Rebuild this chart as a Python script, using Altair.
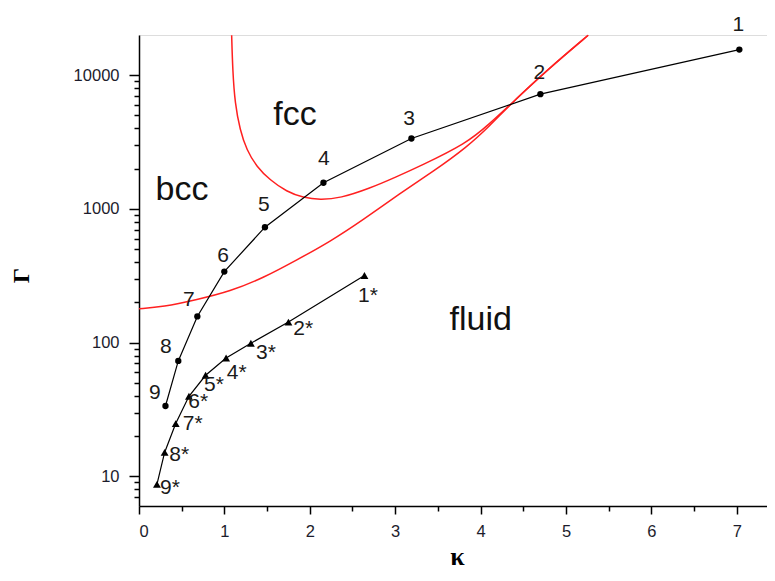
import altair as alt
import pandas as pd

# ---- data ----
kappa_s1 = [7.03, 4.70, 3.19, 2.16, 1.475, 0.999, 0.683, 0.46, 0.31]
gamma_s1 = [15560, 7215, 3365, 1570, 730, 340, 157, 73, 33.6]
labels_s1 = ["1", "2", "3", "4", "5", "6", "7", "8", "9"]
lab_k_s1 = [7.017, 4.687, 3.162, 2.166, 1.461, 0.984, 0.583, 0.314, 0.185]
lab_g_s1 = [21430, 9333, 4236, 2128, 971, 404, 186.6, 83.8, 38.0]

kappa_s2 = [2.64, 1.75, 1.31, 1.02, 0.78, 0.585, 0.43, 0.30, 0.21]
gamma_s2 = [318, 142.6, 99, 76.8, 57, 39.7, 24.8, 15.1, 8.7]
labels_s2 = ["1*", "2*", "3*", "4*", "5*", "6*", "7*", "8*", "9*"]
lab_k_s2 = [2.564, 1.807, 1.370, 1.027, 0.761, 0.577, 0.512, 0.355, 0.246]
lab_g_s2 = [203, 114.8, 76, 53.8, 43.4, 32.6, 22.4, 13.0, 7.35]

fcc_k = [1.085, 1.097, 1.124, 1.183, 1.261, 1.378, 1.534, 1.729, 1.924, 2.119,
         2.354, 2.705, 3.018, 3.290, 3.837, 4.110, 4.383, 4.774, 5.261]
fcc_g = [19900, 10900, 6150, 3890, 2754, 2070, 1644, 1346, 1213, 1167,
         1202, 1427, 1742, 2090, 3090, 4364, 6324, 10900, 19900]

fluid_k = [0, 0.281, 0.679, 1.066, 1.452, 1.850, 2.237, 2.623, 3.056, 3.443,
           3.841, 4.110, 4.379, 4.778, 5.258]
fluid_g = [179.5, 184.6, 209.6, 241.6, 304, 416, 570, 828, 1309, 1900,
           2900, 4200, 6324, 10900, 19900]

regions = ["fcc", "bcc", "fluid"]
region_k = [1.827, 0.503, 4.002]
region_g = [4236, 1167, 123.6]

x_major = [0, 1, 2, 3, 4, 5, 6, 7]
x_minor = [0.5, 1.5, 2.5, 3.5, 4.5, 5.5, 6.5]
y_major = [10, 100, 1000, 10000]
y_minor = [7, 8, 9, 20, 30, 40, 50, 60, 70, 80, 90, 200, 300, 400, 500, 600,
           700, 800, 900, 2000, 3000, 4000, 5000, 6000, 7000, 8000, 9000]

# ---- tables ----
s1 = pd.DataFrame({"k": kappa_s1, "g": gamma_s1, "o": range(len(kappa_s1))})
s2 = pd.DataFrame({"k": kappa_s2, "g": gamma_s2, "o": range(len(kappa_s2))})
t1 = pd.DataFrame({"k": lab_k_s1, "g": lab_g_s1, "t": labels_s1})
t2 = pd.DataFrame({"k": lab_k_s2, "g": lab_g_s2, "t": labels_s2})
fcc = pd.DataFrame({"k": fcc_k, "g": fcc_g})
fluid = pd.DataFrame({"k": fluid_k, "g": fluid_g})
reg = pd.DataFrame({"k": region_k, "g": region_g, "t": regions})

xs = alt.Scale(domain=[0, 7.354], nice=False, zero=False)
ys = alt.Scale(type="log", domain=[6, 20000], nice=False)

TICKFONT = "Liberation Sans"
common_axis = dict(grid=False, domainColor="black", domainWidth=1.5,
                   tickColor="black", tickWidth=1.5, labelFont=TICKFONT,
                   labelFontSize=16.5, labelColor="#1c1c2c")

x_axis_major = alt.Axis(values=x_major, tickSize=8, labelPadding=9,
                        title="κ", titleFont="Liberation Serif", titleFontSize=26,
                        titleFontWeight="bold", titleX=318, titleY=58,
                        titleBaseline="alphabetic", titleAlign="center",
                        orient="bottom", format="d", **common_axis)
y_axis_major = alt.Axis(values=y_major, tickSize=10, labelPadding=10,
                        title="Γ", titleFont="Liberation Serif", titleFontSize=24,
                        titleFontWeight="bold", titleX=-118, titleY=240,
                        titleAngle=-90, titleAlign="center", titleBaseline="middle",
                        orient="left", format="d", **common_axis)
x_axis_minor = alt.Axis(values=x_minor, tickSize=5, labels=False, domain=False,
                        title=None, orient="bottom", grid=False,
                        tickColor="black", tickWidth=1.5)
y_axis_minor = alt.Axis(values=y_minor, tickSize=5, labels=False, domain=False,
                        title=None, orient="left", grid=False,
                        tickColor="black", tickWidth=1.5)

RED = "#ff2020"

fcc_line = alt.Chart(fcc).mark_line(color=RED, strokeWidth=1.5, interpolate="basis").encode(
    x=alt.X("k:Q", scale=xs, axis=x_axis_major),
    y=alt.Y("g:Q", scale=ys, axis=y_axis_major),
)
fluid_line = alt.Chart(fluid).mark_line(color=RED, strokeWidth=1.5, interpolate="basis").encode(
    x=alt.X("k:Q", scale=xs, axis=x_axis_minor),
    y=alt.Y("g:Q", scale=ys, axis=y_axis_minor),
)

s1_line = alt.Chart(s1).mark_line(color="black", strokeWidth=1.2).encode(
    x=alt.X("k:Q", scale=xs, axis=None),
    y=alt.Y("g:Q", scale=ys, axis=None),
    order="o:Q",
)
s1_pts = alt.Chart(s1).mark_point(shape="circle", filled=True, size=40, color="black", opacity=1).encode(
    x=alt.X("k:Q", scale=xs, axis=None),
    y=alt.Y("g:Q", scale=ys, axis=None),
)
s2_line = alt.Chart(s2).mark_line(color="black", strokeWidth=1.2).encode(
    x=alt.X("k:Q", scale=xs, axis=None),
    y=alt.Y("g:Q", scale=ys, axis=None),
    order="o:Q",
)
s2_pts = alt.Chart(s2).mark_point(shape="triangle-up", filled=True, size=62, color="black", opacity=1).encode(
    x=alt.X("k:Q", scale=xs, axis=None),
    y=alt.Y("g:Q", scale=ys, axis=None),
)

LABELFONT = "Liberation Sans"
t1_text = alt.Chart(t1).mark_text(font=LABELFONT, fontSize=21, color="#1a1a1a",
                                  align="center", baseline="alphabetic").encode(
    x=alt.X("k:Q", scale=xs, axis=None),
    y=alt.Y("g:Q", scale=ys, axis=None),
    text="t:N",
)
t2_text = alt.Chart(t2).mark_text(font=LABELFONT, fontSize=21, color="#1a1a1a",
                                  align="left", baseline="alphabetic").encode(
    x=alt.X("k:Q", scale=xs, axis=None),
    y=alt.Y("g:Q", scale=ys, axis=None),
    text="t:N",
)
reg_text = alt.Chart(reg).mark_text(font=LABELFONT, fontSize=34, color="#111111",
                                    align="center", baseline="alphabetic").encode(
    x=alt.X("k:Q", scale=xs, axis=None),
    y=alt.Y("g:Q", scale=ys, axis=None),
    text="t:N",
)

chart = alt.layer(
    fcc_line, fluid_line, s1_line, s1_pts, s2_line, s2_pts, t1_text, t2_text, reg_text
).resolve_axis(x="independent", y="independent").properties(
    width=628, height=471,
    autosize=alt.AutoSizeParams(type="none"),
    padding={"left": 131, "top": 27, "right": 0, "bottom": 67},
).configure_view(stroke=None).configure(background="white")

chart.save("out.html", embed_options={"renderer": "svg", "actions": False})
